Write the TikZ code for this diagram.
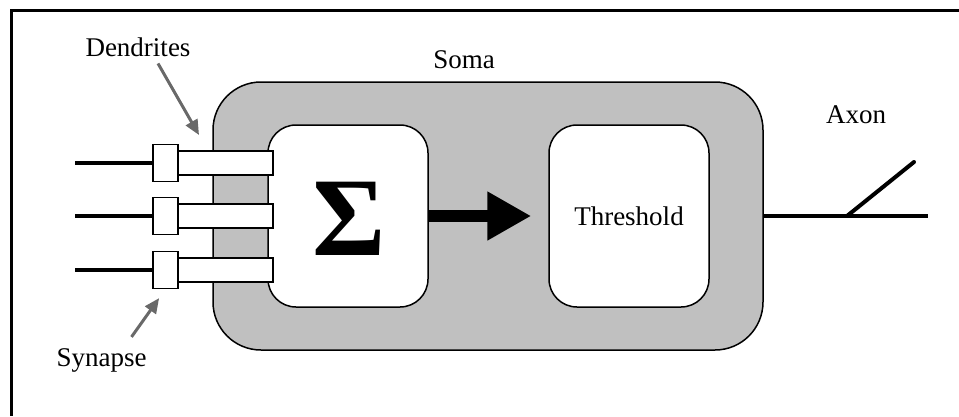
\documentclass[tikz,border=0pt]{standalone}
\usepackage{fontspec}
\setmainfont{Liberation Serif}
\usetikzlibrary{arrows.meta,calc}
\definecolor{somagray}{RGB}{192,192,192}
\definecolor{pointergray}{RGB}{105,105,105}
\begin{document}
\begin{tikzpicture}[x=1pt,y=-1pt,
  caption/.style={font=\fontsize{27}{32}\selectfont, inner sep=0pt, anchor=base},
  somabox/.style={draw, line width=1.5pt, fill=somagray, rounded corners=48pt,
    minimum width=550pt, minimum height=268pt, inner sep=0pt},
  unit/.style={draw, line width=1.5pt, fill=white, rounded corners=28pt,
    minimum width=160pt, minimum height=182pt, inner sep=0pt,
    font=\fontsize{27}{32}\selectfont},
  bar/.style={draw, line width=1.3pt, fill=white, minimum width=95pt,
    minimum height=24pt, inner sep=0pt},
  syn/.style={draw, line width=1.3pt, fill=white, minimum width=25pt,
    minimum height=37pt, inner sep=0pt},
  wire/.style={line width=4pt},
  pointer/.style={draw=pointergray, line width=3pt,
    -{Triangle[length=15pt,width=13pt]}},
  flow/.style={line width=12pt, -{Triangle[length=44pt,width=46pt]}}
]
\useasboundingbox (0,0) rectangle (959,416);

% partial frame along the top and the left side
\draw[line width=3pt] (959,10) -- (11,10) -- (11,416);

% cell body with the summing and threshold units
\node[somabox] (soma) at (488,216) {};
\node[unit] (sum) at (348,216) {};
\node[inner sep=0pt] (sigma) at (349,219) {\fontsize{112}{116}\selectfont\bfseries Σ};
\node[unit] (thr) at (629,216) {Threshold};
\draw[flow, shorten >=17pt] (sum.east) -- (thr.west);

% dendrites with their synapses
\foreach \i/\y in {1/163, 2/216, 3/270} {
  \node[bar] (bar\i) at (225.5,\y) {};
  \node[syn] (syn\i) at (165.5,\y) {};
  \coordinate (in\i) at (75,\y);
  \draw[wire] (in\i) -- (syn\i.west);
}

% axon with its branch
\coordinate (axend) at (928,216);
\coordinate (fork) at (847,216);
\coordinate (forkend) at (914,162);
\draw[wire] (soma.east) -- (axend);
\draw[wire, line cap=round] (fork) -- (forkend);

% labels
\node[caption] (somalab) at (464,68) {Soma};
\node[caption] (axonlab) at (856,123) {Axon};
\node[caption] (dend) at (138,56) {Dendrites};
\node[caption] (synlab) at (101.5,366) {Synapse};

\coordinate (dendtip) at (199,135);
\draw[pointer] ($(dend.south)+(20,7)$) -- (dendtip);
\draw[pointer, shorten >=11pt] ($(synlab.north)+(30,-11)$) -- (syn3.south);
\end{tikzpicture}
\end{document}
